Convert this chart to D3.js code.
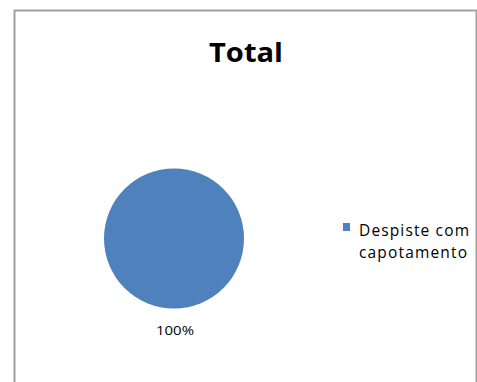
<!DOCTYPE html>
<html><head><meta charset="utf-8">
<script src="https://cdn.jsdelivr.net/npm/d3@7"></script>
<style>body{margin:0;background:#fff}svg{display:block;font-family:"Open Sans","DejaVu Sans",sans-serif}</style>
</head><body>
<script>
const categories = ["Despiste com capotamento"];
const values = [100];
const labels = ["100%"];
const legendLines = [["Despiste com", "capotamento"]];
const title = "Total";

const W = 477, H = 382;
const svg = d3.select("body").append("svg").attr("width", W).attr("height", H);
svg.append("rect").attr("width", W).attr("height", H).attr("fill", "#fff");
// frame
svg.append("path").attr("d", "M14.5,382 L14.5,10.5 L476.5,10.5 L476.5,382")
  .attr("fill", "none").attr("stroke", "#a0a0a0").attr("stroke-width", 2);

svg.append("text").attr("x", 246).attr("y", 62).attr("text-anchor", "middle")
  .attr("font-size", 27).attr("font-weight", "bold").attr("fill", "#000")
  .attr("textLength", 74).attr("lengthAdjust", "spacingAndGlyphs").text(title);

const cx = 174, cy = 238.5, r = 70;
const color = d3.scaleOrdinal().domain(categories).range(["#4f81bd"]);
const pie = d3.pie().sort(null)(values);
const arc = d3.arc().innerRadius(0).outerRadius(r);
const g = svg.append("g").attr("transform", `translate(${cx},${cy})`);
g.selectAll("path").data(pie).join("path").attr("d", arc).attr("fill", (d, i) => color(categories[i]));
g.selectAll("text").data(pie).join("text")
  .attr("x", 1).attr("y", r + 26).attr("text-anchor", "middle")
  .attr("font-size", 13.5).attr("fill", "#000")
  .attr("textLength", 38).attr("lengthAdjust", "spacingAndGlyphs")
  .text((d, i) => labels[i]);

const lg = svg.append("g").attr("transform", "translate(343,223)");
lg.append("rect").attr("width", 7).attr("height", 8).attr("fill", color(categories[0]));
lg.selectAll("text").data(legendLines[0]).join("text")
  .attr("x", 16).attr("y", (d, i) => 13 + i * 21.5)
  .attr("font-size", 15.5).attr("fill", "#000")
  .attr("textLength", (d, i) => i === 0 ? 110 : 108).attr("lengthAdjust", "spacing")
  .text(d => d);
</script>
</body></html>
